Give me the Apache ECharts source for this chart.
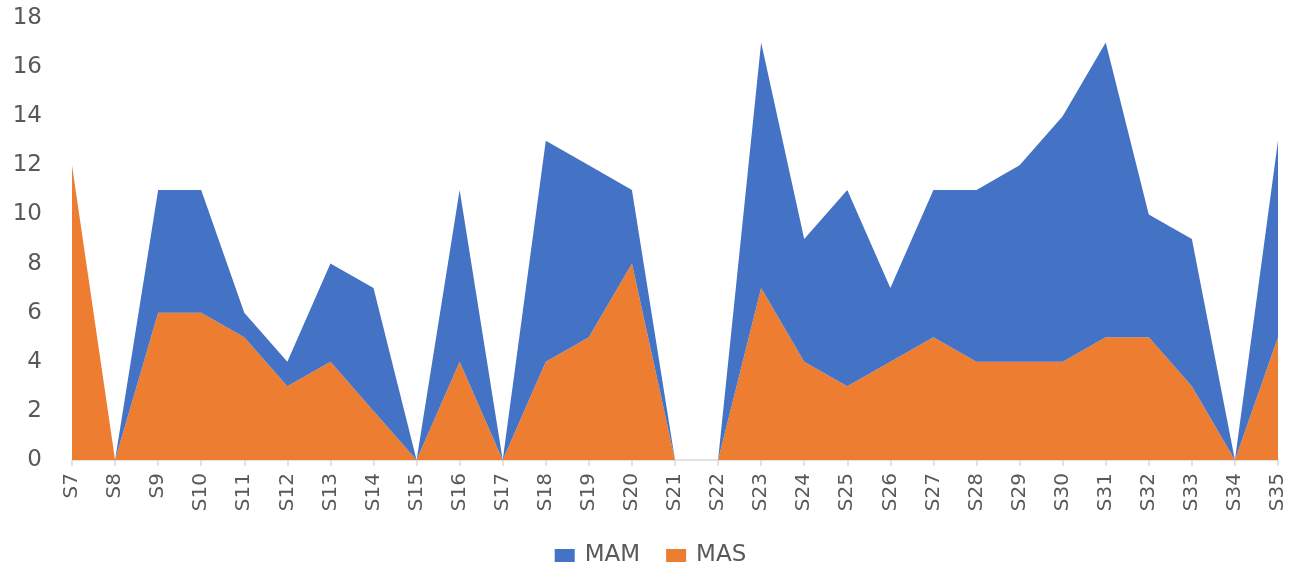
<!DOCTYPE html>
<html>
<head>
<meta charset="utf-8">
<script src="https://cdn.jsdelivr.net/npm/echarts@6/dist/echarts.min.js"></script>
<style>
  html, body { margin: 0; padding: 0; background: #fff; }
  #chart { width: 1301px; height: 567px; }
</style>
</head>
<body>
<div id="chart"></div>
<script>
// Weekly case counts, stacked: MAS on the bottom, MAM on top
const categories = ['S7','S8','S9','S10','S11','S12','S13','S14','S15','S16','S17','S18','S19','S20','S21',
  'S22','S23','S24','S25','S26','S27','S28','S29','S30','S31','S32','S33','S34','S35'];
const masValues = [12,0,6,6,5,3,4,2,0,4,0,4,5,8,0,0,7,4,3,4,5,4,4,4,5,5,3,0,5];
const mamValues = [0,0,5,5,1,1,4,5,0,7,0,9,7,3,0,0,10,5,8,3,6,7,8,10,12,5,6,0,8];
const yTicks = { min: 0, max: 18, interval: 2 };

const labelColor = '#595959';
const fontFamily = '"DejaVu Sans", "Open Sans", sans-serif';

const chart = echarts.init(document.getElementById('chart'));
chart.setOption({
  animation: false,
  color: ['#ED7D31', '#4472C4'],
  grid: { left: 72, right: 23, top: 18, bottom: 107, containLabel: false },
  legend: {
    data: ['MAM', 'MAS'],
    top: 539,
    left: 'center',
    icon: 'rect',
    itemWidth: 20,
    itemHeight: 13,
    itemGap: 26,
    textStyle: { color: labelColor, fontSize: 23, fontFamily: fontFamily, padding: [0, 0, 0, 5] }
  },
  xAxis: {
    type: 'category',
    data: categories,
    boundaryGap: false,
    axisLine: { lineStyle: { color: '#D9D9D9', width: 1.5 } },
    axisTick: { show: true, alignWithLabel: true, length: 6, lineStyle: { color: '#D9D9D9', width: 1.5 } },
    axisLabel: { rotate: 90, interval: 0, color: labelColor, fontSize: 20, fontFamily: fontFamily, margin: 13 },
    splitLine: { show: false }
  },
  yAxis: {
    type: 'value',
    min: yTicks.min,
    max: yTicks.max,
    interval: yTicks.interval,
    axisLine: { show: false },
    axisTick: { show: false },
    axisLabel: { color: labelColor, fontSize: 23, fontFamily: fontFamily, margin: 30 },
    splitLine: { show: false }
  },
  series: [
    {
      name: 'MAS',
      type: 'line',
      stack: 'total',
      data: masValues,
      symbol: 'none',
      lineStyle: { width: 0 },
      areaStyle: { color: '#ED7D31', opacity: 1 }
    },
    {
      name: 'MAM',
      type: 'line',
      stack: 'total',
      data: mamValues,
      symbol: 'none',
      lineStyle: { width: 0 },
      areaStyle: { color: '#4472C4', opacity: 1 }
    }
  ]
});
</script>
</body>
</html>
